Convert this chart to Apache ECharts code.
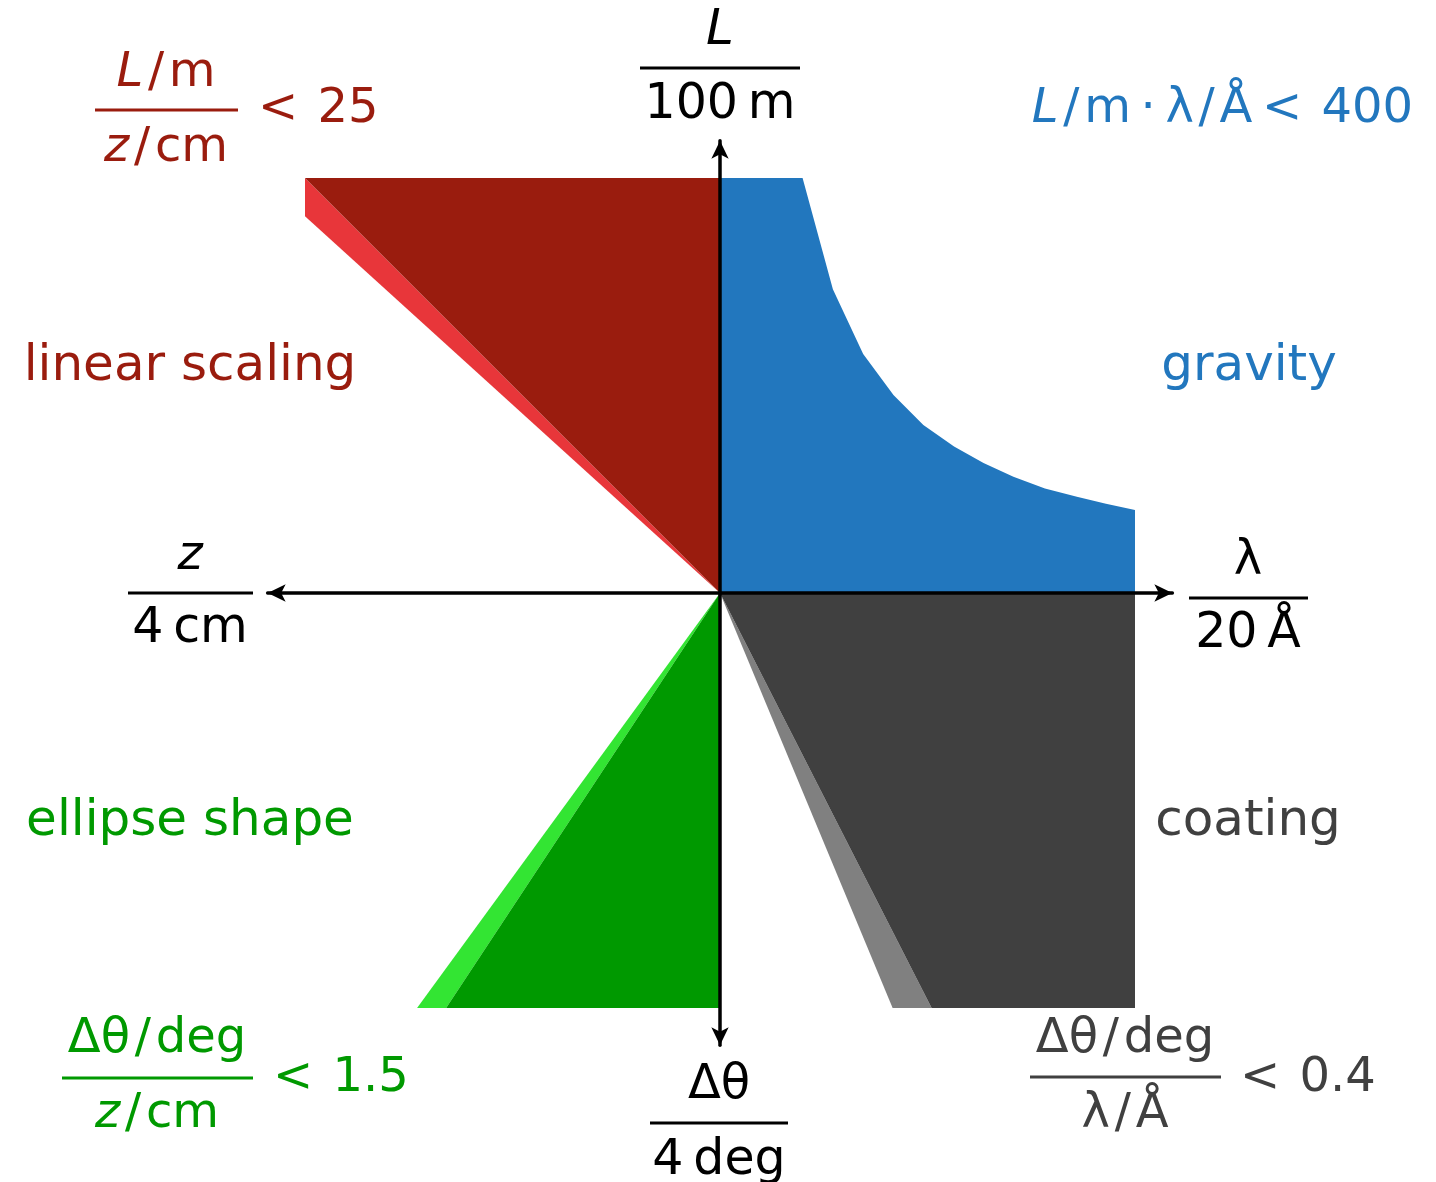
<!DOCTYPE html>
<html>
<head>
<meta charset="utf-8">
<script src="https://cdn.jsdelivr.net/npm/echarts@6/dist/echarts.min.js"></script>
<style>html,body{margin:0;padding:0;background:#fff}#c{width:1436px;height:1182px}</style>
</head>
<body>
<div id="c"></div>
<script>
// Normalized coordinates: x>0 -> lambda/20Å, x<0 -> z/4cm, y>0 -> L/100m, y<0 -> Δθ/4deg
const gravityX = [0, 0, 0.199, 0.272, 0.345, 0.418, 0.490, 0.564, 0.635, 0.707, 0.783, 0.860, 0.930, 1.0, 1.0];
const gravityY = [0, 1, 1, 0.732, 0.576, 0.477, 0.405, 0.353, 0.313, 0.280, 0.252, 0.232, 0.215, 0.200, 0];
const linearDarkX = [0, -1, 0];
const linearDarkY = [0, 1, 1];
const linearLightX = [0, -1, -1];
const linearLightY = [0, 0.908, 1];
const ellipseDarkX = [0, -0.66, 0];
const ellipseDarkY = [0, -1, -1];
const ellipseLightX = [0, -0.73, -0.66];
const ellipseLightY = [0, -1, -1];
const coatingDarkX = [0, 1, 1, 0.51];
const coatingDarkY = [0, 0, -1, -1];
const coatingLightX = [0, 0.51, 0.416];
const coatingLightY = [0, -1, -1];

const FONT = 'DejaVu Sans';
const RED = '#9a1c0e', LRED = '#e8363a', BLUE = '#2277be', GREEN = '#009900', LGREEN = '#33e533', GRAY = '#404040', LGRAY = '#808080';
const S = '\u200A/\u200A';

function polySeries(xs, ys, color, z) {
  const pts = xs.map((x, i) => [x, ys[i]]);
  return {
    type: 'custom', z: z, silent: true, clip: false,
    data: pts,
    renderItem: function (params, api) {
      if (params.dataIndex !== 0) return null;
      return {
        type: 'polygon',
        shape: { points: pts.map(p => api.coord(p)) },
        style: { fill: color, stroke: null }
      };
    }
  };
}

const SIZE = 48;
function T(text, x, baseline, color, align, size, rich) {
  size = size || SIZE;
  const r = {};
  if (rich) {
    r.i = { fontStyle: 'italic', fontFamily: FONT, fontSize: size, fill: color };
    r.n = { fontFamily: FONT, fontSize: size, fill: color };
  }
  return {
    type: 'text', x: x, y: baseline - 0.29 * size, silent: true,
    style: {
      text: text, fill: color, font: size + 'px "' + FONT + '"',
      fontFamily: FONT, fontSize: size,
      align: align || 'center', verticalAlign: 'middle', rich: rich ? r : undefined
    }
  };
}
function Bar(x1, x2, y, color) {
  return { type: 'line', silent: true, shape: { x1: x1, y1: y, x2: x2, y2: y }, style: { stroke: color, lineWidth: 3 } };
}

const graphics = [
  // top axis label
  T('{i|L}', 720, 46, '#000', 'center', 50, true),
  Bar(640, 800, 68, '#000'),
  T('100\u2009m', 720, 119, '#000', 'center', 49),
  // left axis label
  T('{i|z}', 190, 570, '#000', 'center', SIZE, true),
  Bar(128, 253, 593, '#000'),
  T('4\u2009cm', 190, 643, '#000', 'center', 49),
  // right axis label
  T('λ', 1248, 575, '#000'),
  Bar(1189, 1308, 598, '#000'),
  T('20\u2009Å', 1248, 648, '#000', 'center', 49),
  // bottom axis label
  T('Δθ', 719, 1099, '#000'),
  Bar(650, 788, 1123, '#000'),
  T('4\u2009deg', 719, 1175, '#000', 'center', 49),
  // red condition
  T('{i|L}{n|' + S + 'm}', 166, 87, RED, 'center', SIZE, true),
  Bar(95, 238, 110, RED),
  T('{i|z}{n|' + S + 'cm}', 166, 162, RED, 'center', SIZE, true),
  T('<\u2009\u200925', 258, 123, RED, 'left'),
  // blue condition
  T('{i|L}{n|' + S + 'm\u2009·\u2009λ' + S + 'Å\u2009<\u2009\u2009400}', 1413, 123, BLUE, 'right', SIZE, true),
  // green condition
  T('Δθ' + S + 'deg', 157, 1053, GREEN),
  Bar(62, 253, 1078, GREEN),
  T('{i|z}{n|' + S + 'cm}', 157, 1128, GREEN, 'center', SIZE, true),
  T('<\u2009\u20091.5', 273, 1092, GREEN, 'left'),
  // gray condition
  T('Δθ' + S + 'deg', 1125, 1053, GRAY),
  Bar(1030, 1221, 1077, GRAY),
  T('λ' + S + 'Å', 1125, 1128, GRAY),
  T('<\u2009\u20090.4', 1240, 1092, GRAY, 'left'),
  // region names
  T('linear scaling', 190, 382, RED, 'center', 50),
  T('gravity', 1249, 382, BLUE, 'center', 50),
  T('ellipse shape', 190, 837, GREEN, 'center', 50),
  T('coating', 1248, 837, GRAY, 'center', 50)
];

const axisCommon = {
  type: 'value', min: -1.09, max: 1.09, z: 10,
  axisLine: { show: true, onZero: true, symbol: ['arrow', 'arrow'], symbolSize: [13, 18], lineStyle: { color: '#000', width: 3.5 } },
  axisTick: { show: false }, axisLabel: { show: false }, splitLine: { show: false }
};

const chart = echarts.init(document.getElementById('c'), null, { renderer: 'canvas' });
chart.setOption({
  animation: false,
  backgroundColor: '#fff',
  grid: { left: 267.65, top: 140.65, width: 904.7, height: 904.7 },
  xAxis: Object.assign({}, axisCommon),
  yAxis: Object.assign({}, axisCommon),
  series: [
    polySeries(linearLightX, linearLightY, LRED, 2),
    polySeries(linearDarkX, linearDarkY, RED, 3),
    polySeries(gravityX, gravityY, BLUE, 3),
    polySeries(ellipseLightX, ellipseLightY, LGREEN, 2),
    polySeries(ellipseDarkX, ellipseDarkY, GREEN, 3),
    polySeries(coatingLightX, coatingLightY, LGRAY, 2),
    polySeries(coatingDarkX, coatingDarkY, GRAY, 3)
  ],
  graphic: graphics
});
</script>
</body>
</html>
